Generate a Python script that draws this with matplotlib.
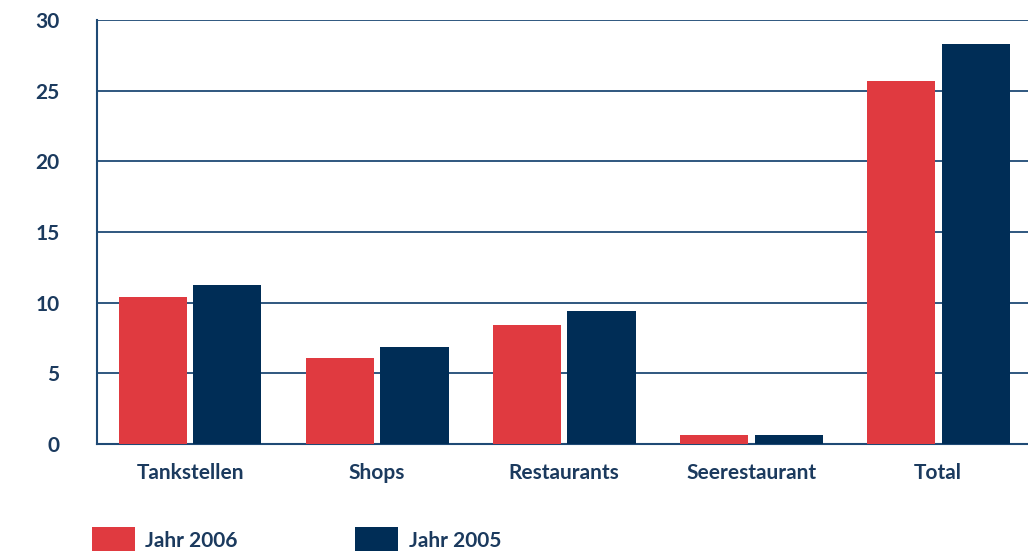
import matplotlib
matplotlib.use('Agg')
import matplotlib.pyplot as plt
import numpy as np

# data
categories = ['Tankstellen', 'Shops', 'Restaurants', 'Seerestaurant', 'Total']
jahr_2006 = [10.4, 6.1, 8.4, 0.65, 25.7]
jahr_2005 = [11.25, 6.85, 9.4, 0.65, 28.3]
yticks = [0, 5, 10, 15, 20, 25, 30]

red = '#E03A40'
navy = '#002D56'
txt = '#1B3A5E'

plt.rcParams['font.family'] = ['Lato', 'DejaVu Sans']

fig = plt.figure(figsize=(10.28, 5.51), dpi=100)
ax = fig.add_axes([0.0944, 0.1942, 0.9056, 0.7695])

x = np.arange(len(categories))
w = 0.364
off = 0.2
ax.bar(x - off, jahr_2006, w, color=red, label='Jahr 2006', zorder=3)
ax.bar(x + off, jahr_2005, w, color=navy, label='Jahr 2005', zorder=3)

ax.set_xlim(-0.497, 4.48)
ax.set_ylim(0, 30)
ax.set_yticks(yticks)
ax.set_xticks(x)
ax.set_xticklabels(categories)
ax.yaxis.grid(True, color='#1F4A75', linewidth=1.3, zorder=0)
ax.set_axisbelow(True)
ax.tick_params(length=0, labelsize=15, labelcolor=txt)
ax.tick_params(axis='y', pad=27)
ax.tick_params(axis='x', pad=14)
for lab in ax.get_xticklabels() + ax.get_yticklabels():
    lab.set_fontweight('bold')

for s in ['top', 'right']:
    ax.spines[s].set_visible(False)
for s in ['left', 'bottom']:
    ax.spines[s].set_color('#1F4A75')
    ax.spines[s].set_linewidth(1.5)

leg = ax.legend(loc='upper left', bbox_to_anchor=(-0.0147, -0.176), ncol=2,
                frameon=False, handlelength=2.07, handleheight=1.5,
                handletextpad=0.5, columnspacing=5.64, borderaxespad=0,
                prop={'size': 15, 'weight': 'bold'})
for t in leg.get_texts():
    t.set_color(txt)

fig.savefig('out.png', dpi=100)
